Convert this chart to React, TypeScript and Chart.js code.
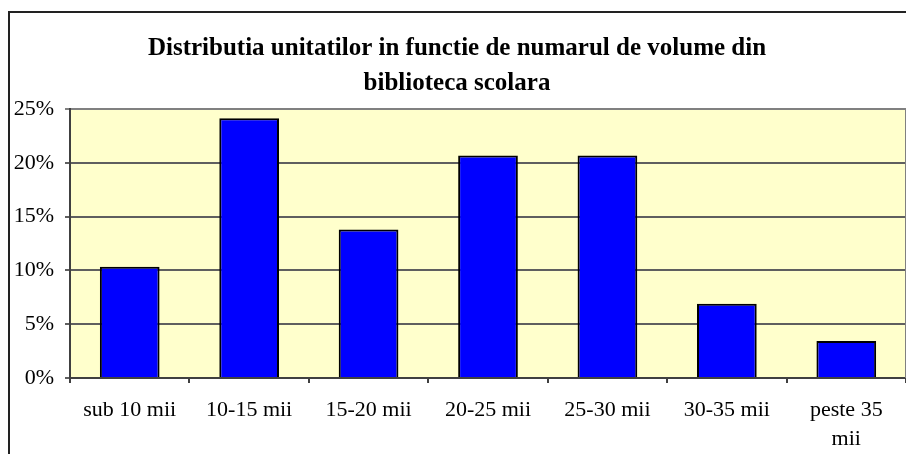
import React, { useEffect, useRef } from "react";
import { Chart, registerables } from "chart.js";

Chart.register(...registerables);

const categories: (string | string[])[] = [
  "sub 10 mii",
  "10-15 mii",
  "15-20 mii",
  "20-25 mii",
  "25-30 mii",
  "30-35 mii",
  ["peste 35", "mii"],
];
const shares: number[] = [10.34, 24.14, 13.79, 20.69, 20.69, 6.9, 3.45];
const yTicks: number[] = [0, 5, 10, 15, 20, 25];
const titleLines: string[] = [
  "Distributia unitatilor in functie de numarul de volume din",
  "biblioteca scolara",
];

const SERIF = "'Liberation Serif', 'Times New Roman', serif";

const framePlugin = {
  id: "frameAndPlot",
  beforeDraw(chart: any) {
    const { ctx, chartArea, width, height } = chart;
    ctx.save();
    ctx.fillStyle = "#222222";
    ctx.fillRect(0, 3, width, 2);
    ctx.fillRect(0, 3, 2, height);
    ctx.fillStyle = "#FFFFCC";
    ctx.fillRect(
      chartArea.left,
      chartArea.top,
      chartArea.right - chartArea.left,
      chartArea.bottom - chartArea.top
    );
    ctx.restore();
  },
  beforeDatasetsDraw(chart: any) {
    const { ctx, chartArea } = chart;
    ctx.save();
    ctx.strokeStyle = "#808080";
    ctx.lineWidth = 2;
    ctx.beginPath();
    ctx.moveTo(chartArea.right, chartArea.top);
    ctx.lineTo(chartArea.right, chartArea.bottom);
    ctx.stroke();
    ctx.restore();
  },
};

export default function App() {
  const ref = useRef<HTMLCanvasElement>(null);
  useEffect(() => {
    if (!ref.current) return;
    const chart = new Chart(ref.current, {
      type: "bar",
      data: {
        labels: categories,
        datasets: [
          {
            data: shares,
            backgroundColor: "#0000FF",
            borderColor: "#000000",
            borderWidth: 2,
            barPercentage: 0.5,
            categoryPercentage: 1,
          },
        ],
      },
      options: {
        animation: false,
        responsive: false,
        maintainAspectRatio: false,
        layout: { padding: { left: 0, right: 8, top: 0, bottom: 0 } },
        plugins: {
          legend: { display: false },
          tooltip: { enabled: false },
          title: {
            display: true,
            text: titleLines,
            color: "#000000",
            font: { family: SERIF, size: 25, weight: "bold", lineHeight: 1.4 },
            padding: { top: 23, bottom: 8 },
          },
        },
        scales: {
          x: {
            grid: {
              display: true,
              drawOnChartArea: false,
              drawTicks: true,
              tickLength: 5,
              color: "#404040",
              lineWidth: 2,
              offset: true,
            },
            border: { display: true, color: "#404040", width: 2 },
            ticks: {
              color: "#000000",
              font: { family: SERIF, size: 22, lineHeight: 1.3 },
              padding: 13,
              maxRotation: 0,
              autoSkip: false,
            },
            afterFit(scale: any) {
              scale.height = 76;
            },
          },
          y: {
            min: 0,
            max: 25,
            afterBuildTicks(scale: any) {
              scale.ticks = yTicks.map((v) => ({ value: v }));
            },
            grid: {
              color: (c: any) => (c.tick && c.tick.value === 25 ? "#808080" : "#5f5f5f"),
              lineWidth: 2,
              tickLength: 5,
              drawTicks: true,
            },
            border: { display: true, color: "#404040", width: 2 },
            ticks: {
              color: "#000000",
              font: { family: SERIF, size: 22 },
              padding: 11,
              callback: (v: any) => `${v}%`,
            },
            afterFit(scale: any) {
              scale.width = 62;
            },
          },
        },
      },
      plugins: [framePlugin],
    });
    return () => chart.destroy();
  }, []);
  return (
    <div style={{ width: 906, height: 446 }}>
      <canvas ref={ref} width={906} height={446} style={{ display: "block" }} />
    </div>
  );
}
